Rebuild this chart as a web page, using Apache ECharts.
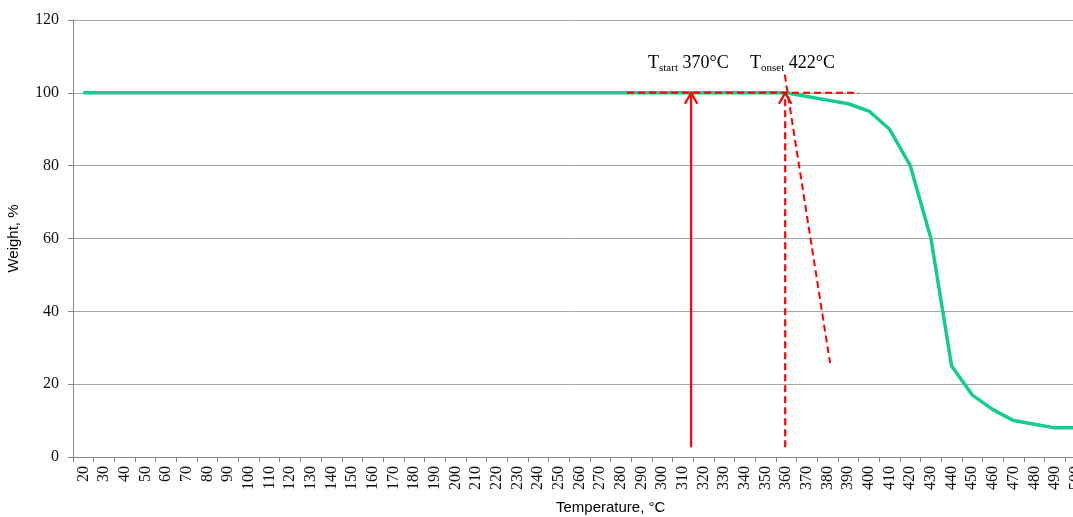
<!DOCTYPE html>
<html><head><meta charset="utf-8">
<script src="https://cdn.jsdelivr.net/npm/echarts@6/dist/echarts.min.js"></script>
<style>html,body{margin:0;padding:0;background:#fff}#c{width:1073px;height:517px}</style>
</head><body><div id="c"></div>
<script>
// Temperature categories (°C)
const temps = [20,30,40,50,60,70,80,90,100,110,120,130,140,150,160,170,180,190,200,210,220,230,240,250,260,270,280,290,300,310,320,330,340,350,360,370,380,390,400,410,420,430,440,450,460,470,480,490,500];
// Weight, %
const weight = [100,100,100,100,100,100,100,100,100,100,100,100,100,100,100,100,100,100,100,100,100,100,100,100,100,100,100,100,100,100,100,100,100,100,100,99,98,97,95,90,80,60,25,17,13,10,9,8,8];
const yTicks = [0,20,40,60,80,100,120];
// Annotation lines, in [temperature position, weight %] on a continuous temperature scale
const startArrow = [[314,2.7],[314,100]];
const startHead = [[311,97],[314,100],[317,97]];
const onsetArrow = [[359.5,2.7],[359.5,100]];
const onsetHead = [[356.5,97],[359.5,100],[362.5,97]];
const baseline = [[283,100],[395,100]];
const tangent = [[359.3,105],[381.2,25.8]];

const chart = echarts.init(document.getElementById('c'));
const red = '#ff0000';
function ann(data, dashed, w) {
  return {type:'line', xAxisIndex:1, data:data, symbol:'none', silent:true, z:5,
    lineStyle:{color:red, width:w||2, type: dashed ? [7,4] : 'solid'}};
}
const serif = 'Liberation Serif';
const richT = {
  a:{fontFamily:serif, fontSize:18, color:'#000', verticalAlign:'top', lineHeight:20},
  b:{fontFamily:serif, fontSize:11, color:'#000', verticalAlign:'bottom', lineHeight:16}
};
chart.setOption({
  animation:false,
  grid:{left:73, top:20, width:1013, height:437, containLabel:false, outerBoundsMode:'none'},
  xAxis:[{
    type:'category', data:temps, boundaryGap:true,
    axisLine:{lineStyle:{color:'#868686'}},
    axisTick:{show:true, interval:0, length:5, lineStyle:{color:'#868686'}},
    axisLabel:{interval:0, rotate:90, margin:9, fontFamily:serif, fontSize:16, color:'#111'},
    splitLine:{show:false}
  },{
    type:'value', min:15, max:505, show:false
  }],
  yAxis:{
    type:'value', min:0, max:120, interval:20,
    name:'Weight, %', nameLocation:'middle', nameGap:52,
    nameTextStyle:{fontFamily:'Liberation Sans', fontSize:15, color:'#000'},
    axisLine:{show:true, lineStyle:{color:'#868686'}},
    axisTick:{show:true, length:5, lineStyle:{color:'#868686'}},
    axisLabel:{margin:14, fontFamily:serif, fontSize:16, color:'#111',
      formatter: v => yTicks.includes(v) ? String(v) : ''},
    splitLine:{lineStyle:{color:'#a6a6a6', width:1}}
  },
  graphic:[
    {type:'text', left:556, top:500, style:{text:'Temperature, °C', font:'15px "Liberation Sans"', fill:'#000'}},
    {type:'text', left:648, top:54, style:{text:'{a|T}{b|start}{a| 370°C}', rich:richT}},
    {type:'text', left:750, top:54, style:{text:'{a|T}{b|onset}{a| 422°C}', rich:richT}}
  ],
  series:[
    {type:'line', data:weight, symbol:'none', z:3, lineStyle:{color:'#12cc94', width:3.5}},
    ann(startArrow,false,2.2), ann(startHead,false,2.2),
    ann(onsetArrow,true,2.2), ann(onsetHead,false,2.2),
    ann(baseline,true,2), ann(tangent,true,2)
  ]
});
</script></body></html>
